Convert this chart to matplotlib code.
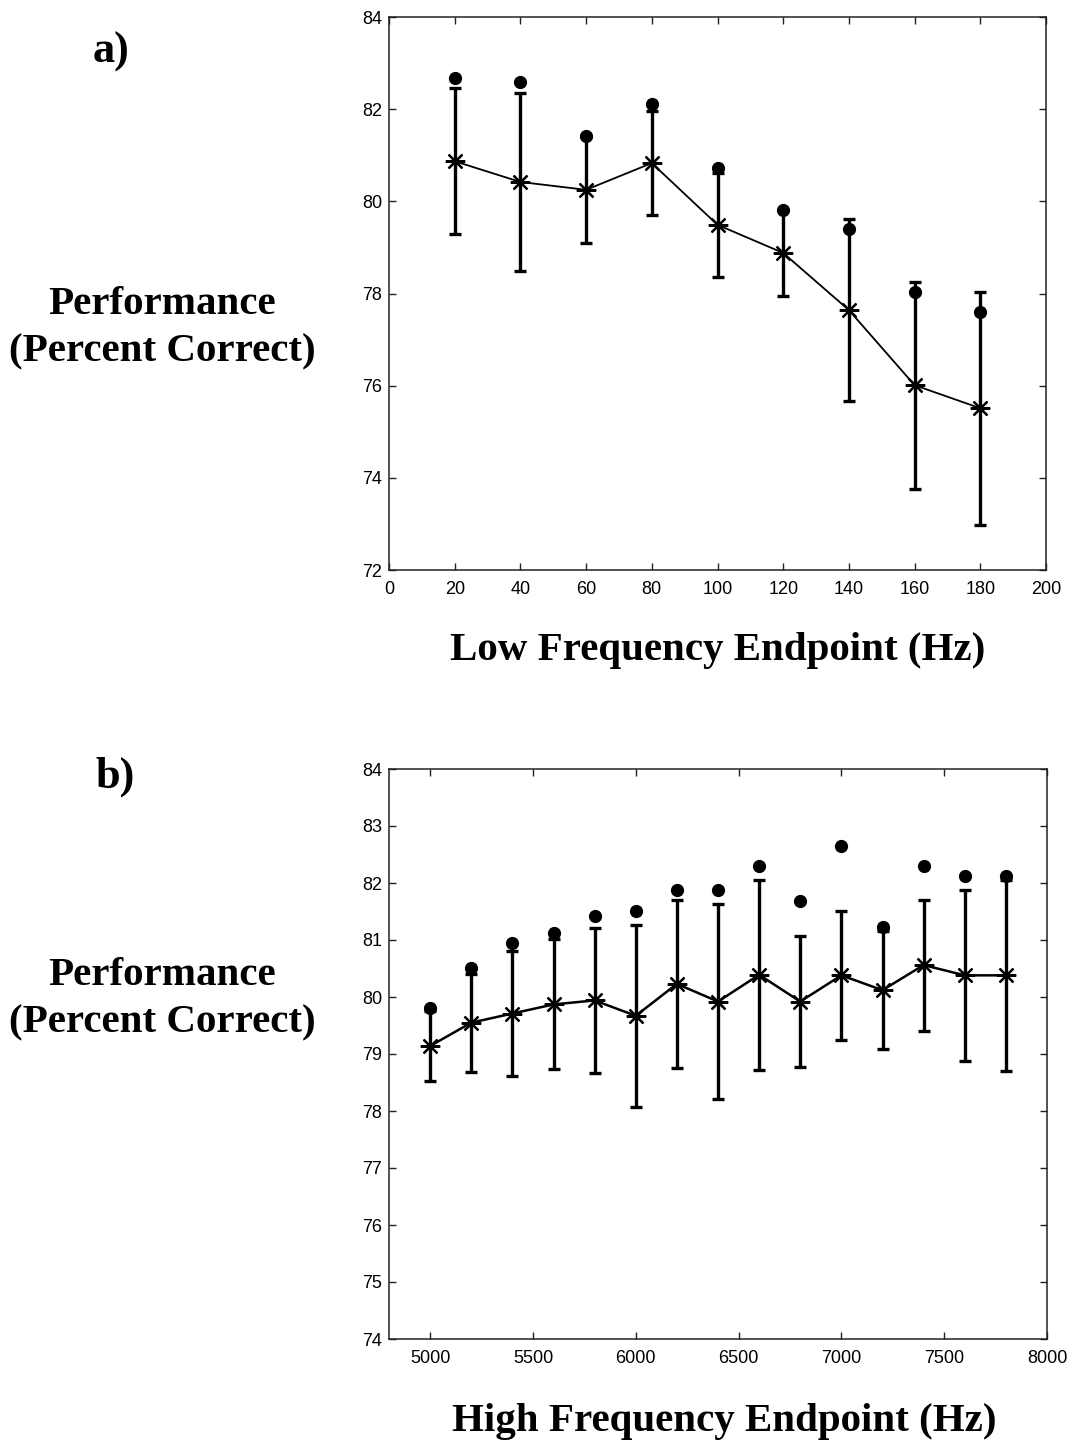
import matplotlib
matplotlib.use("Agg")
import matplotlib.pyplot as plt
import numpy as np

# ---- Panel a data ----
low_freq = [20, 40, 60, 80, 100, 120, 140, 160, 180]
low_mean = [80.87, 80.42, 80.25, 80.83, 79.49, 78.88, 77.64, 76.01, 75.51]
low_err = [1.58, 1.94, 1.15, 1.13, 1.13, 0.93, 1.98, 2.25, 2.53]
low_dot = [82.68, 82.59, 81.42, 82.11, 80.72, 79.81, 79.40, 78.03, 77.60]

# ---- Panel b data ----
high_freq = [5000, 5200, 5400, 5600, 5800, 6000, 6200, 6400, 6600, 6800, 7000, 7200, 7400, 7600, 7800]
high_mean = [79.14, 79.55, 79.71, 79.87, 79.94, 79.67, 80.23, 79.92, 80.39, 79.92, 80.38, 80.12, 80.56, 80.38, 80.38]
high_err = [0.62, 0.86, 1.10, 1.14, 1.27, 1.60, 1.48, 1.71, 1.67, 1.15, 1.13, 1.04, 1.15, 1.50, 1.68]
high_dot = [79.81, 80.51, 80.95, 81.12, 81.42, 81.51, 81.87, 81.87, 82.29, 81.68, 82.65, 81.22, 82.30, 82.12, 82.12]

W, H = 1067, 1443
fig = plt.figure(figsize=(W / 100, H / 100), dpi=100)

serif = ["Liberation Serif", "DejaVu Serif"]
sans = ["Liberation Sans", "DejaVu Sans"]

ast = (8, 2, 0)


def style_axes(ax):
    for s in ax.spines.values():
        s.set_linewidth(1.1)
        s.set_color("#222222")
    ax.tick_params(direction="in", length=5, width=1, top=True, right=True,
                   labelsize=13, colors="#222222", pad=5)
    ax.tick_params(axis="x", pad=8)
    for lab in ax.get_xticklabels() + ax.get_yticklabels():
        lab.set_family(sans)
        lab.set_color("black")


# Panel a
axa = fig.add_axes([389 / W, 1 - 570 / H, 657 / W, 553 / H])
axa.errorbar(low_freq, low_mean, yerr=low_err, fmt="none", ecolor="black",
             elinewidth=2.4, capsize=4.5, capthick=2.4, zorder=2)
axa.plot(low_freq, low_mean, color="black", lw=1.3, marker=ast, ms=14,
         mew=1.6, zorder=3)
axa.plot(low_freq, low_dot, "o", color="black", ms=8.5, zorder=4, linestyle="none")
axa.set_xlim(0, 200)
axa.set_ylim(72, 84)
axa.set_xticks(np.arange(0, 201, 20))
axa.set_yticks(np.arange(72, 85, 2))
style_axes(axa)

# Panel b
axb = fig.add_axes([389 / W, 1 - 1339 / H, 658 / W, 570 / H])
axb.errorbar(high_freq, high_mean, yerr=high_err, fmt="none", ecolor="black",
             elinewidth=2.4, capsize=4.5, capthick=2.4, zorder=2)
axb.plot(high_freq, high_mean, color="black", lw=1.8, marker=ast, ms=14,
         mew=1.6, zorder=3)
axb.plot(high_freq, high_dot, "o", color="black", ms=8.5, zorder=4, linestyle="none")
axb.set_xlim(4800, 8000)
axb.set_ylim(74, 84)
axb.set_xticks(np.arange(5000, 8001, 500))
axb.set_yticks(np.arange(74, 85, 1))
style_axes(axb)

# Text labels
fig.text(111 / W, 1 - 52 / H, "a)", family=serif, weight="bold", fontsize=32,
         ha="center", va="center")
fig.text(115 / W, 1 - 777 / H, "b)", family=serif, weight="bold", fontsize=32,
         ha="center", va="center")

for yc in (328, 999):
    fig.text(162 / W, 1 - yc / H, "Performance\n(Percent Correct)", family=serif,
             weight="bold", fontsize=29.5, ha="center", va="center",
             linespacing=1.36)

fig.text(718 / W, 1 - 650 / H, "Low Frequency Endpoint (Hz)", family=serif,
         weight="bold", fontsize=29.5, ha="center", va="center")
fig.text(724 / W, 1 - 1421 / H, "High Frequency Endpoint (Hz)", family=serif,
         weight="bold", fontsize=29.5, ha="center", va="center")

fig.savefig("out.png", dpi=100, facecolor="white")
